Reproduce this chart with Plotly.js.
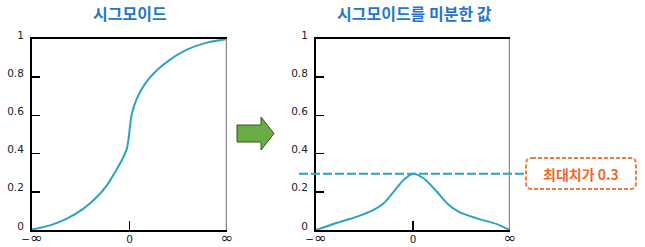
<!DOCTYPE html>
<html>
<head>
<meta charset="utf-8">
<script src="https://cdn.plot.ly/plotly-3.0.1.min.js"></script>
<style>
html,body{margin:0;padding:0;background:#fff;}
#chart{width:645px;height:247px;}
</style>
</head>
<body>
<div id="chart"></div>
<script>
// ---- data ----
const sigmoidX = [-1, -0.993, -0.814, -0.643, -0.472, -0.335, -0.232, -0.147, -0.079, -0.027, -0.007, 0, 0.024, 0.075, 0.161, 0.280, 0.417, 0.588, 0.793, 1.0];
const sigmoidY = [0, 0.003, 0.024, 0.059, 0.112, 0.173, 0.234, 0.304, 0.365, 0.426, 0.487, 0.522, 0.609, 0.688, 0.766, 0.836, 0.892, 0.944, 0.981, 1.0];
const derivX = [-1, -0.782, -0.576, -0.405, -0.302, -0.2, -0.097, 0, 0.109, 0.247, 0.35, 0.469, 0.658, 0.864, 1.0];
const derivY = [0, 0.038, 0.070, 0.105, 0.140, 0.200, 0.262, 0.295, 0.271, 0.200, 0.140, 0.096, 0.061, 0.031, 0];
const peakValue = 0.295;
const yTickVals = [0, 0.2, 0.4, 0.6, 0.8, 1];
const yTickText = ['0', '0.2', '0.4', '0.6', '0.8', '1'];
const xTickVals = [-1, 0, 1];
const xTickText = ['\u2212<span style="font-size:15px">\u221E</span>', '0', '<span style="font-size:15px">\u221E</span>'];
const titles = ['시그모이드', '시그모이드를 미분한 값'];
const maxLabel = '최대치가 0.3';

// ---- helpers (pixel -> paper) ----
const W = 645, H = 247;
const px = x => x / W;
const py = y => (H - y) / H;

const curveColor = '#2ea2c3';
const tickFont = {family: 'DejaVu Sans, Verdana, sans-serif', size: 10.5, color: '#222'};

function xAxis(domain, anchor) {
  return {
    domain: domain, anchor: anchor, range: [-1, 1], fixedrange: true,
    showgrid: false, zeroline: false,
    showline: true, linecolor: '#000', linewidth: 2, mirror: true,
    tickmode: 'array', tickvals: xTickVals, ticktext: xTickText,
    ticks: 'inside', ticklen: 9, tickwidth: 1.5, tickcolor: '#000',
    tickfont: tickFont, ticklabelstandoff: -2
  };
}
function yAxis(anchor) {
  return {
    domain: [py(230), py(39)], anchor: anchor, range: [0, 1], fixedrange: true,
    showgrid: false, zeroline: false,
    showline: true, linecolor: '#000', linewidth: 2, mirror: false,
    tickmode: 'array', tickvals: yTickVals, ticktext: yTickText,
    ticks: 'inside', ticklen: 8, tickwidth: 1.5, tickcolor: '#000',
    tickfont: tickFont, ticklabelshift: -4, ticklabelstandoff: 4
  };
}

const traces = [
  {x: sigmoidX, y: sigmoidY, xaxis: 'x', yaxis: 'y', mode: 'lines',
   line: {color: curveColor, width: 2, shape: 'spline', smoothing: 0.6}, cliponaxis: false, hoverinfo: 'skip'},
  {x: derivX, y: derivY, xaxis: 'x2', yaxis: 'y2', mode: 'lines',
   line: {color: curveColor, width: 2, shape: 'spline', smoothing: 0.8}, cliponaxis: false, hoverinfo: 'skip'}
];

// arrow polygon
const arrowPts = [[237,125],[261,125],[261,117],[274,133.5],[261,150],[261,142],[237,142]];
const arrowPath = 'M ' + arrowPts.map(p => px(p[0]) + ',' + py(p[1])).join(' L ') + ' Z';

// rounded dashed box
function roundedRect(x0, y0, x1, y1, r) {
  const rx = r / W, ry = r / H;
  const a = px(x0), b = px(x1), top = py(y0), bot = py(y1);
  return `M ${a+rx},${top} L ${b-rx},${top} Q ${b},${top} ${b},${top-ry} L ${b},${bot+ry} Q ${b},${bot} ${b-rx},${bot} L ${a+rx},${bot} Q ${a},${bot} ${a},${bot+ry} L ${a},${top-ry} Q ${a},${top} ${a+rx},${top} Z`;
}

const layout = {
  width: W, height: H,
  margin: {l: 0, r: 0, t: 0, b: 0},
  paper_bgcolor: '#fff', plot_bgcolor: '#fff',
  showlegend: false,
  xaxis: xAxis([px(32), px(227)], 'y'),
  yaxis: yAxis('x'),
  xaxis2: xAxis([px(316), px(510)], 'y2'),
  yaxis2: yAxis('x2'),
  shapes: [
    // gray right borders
    {type: 'line', xref: 'x', yref: 'y', x0: 1, x1: 1, y0: 0, y1: 1, line: {color: '#8a8a8a', width: 2.5}},
    {type: 'line', xref: 'x2', yref: 'y2', x0: 1, x1: 1, y0: 0, y1: 1, line: {color: '#8a8a8a', width: 2.5}},
    // dashed max line
    {type: 'line', xref: 'paper', yref: 'y2', x0: px(299), x1: px(526), y0: peakValue, y1: peakValue,
     line: {color: curveColor, width: 2, dash: '9px,3px'}},
    // arrow
    {type: 'path', xref: 'paper', yref: 'paper', path: arrowPath, fillcolor: '#6aad45', line: {color: '#35541f', width: 1}},
    // label box
    {type: 'path', xref: 'paper', yref: 'paper', path: roundedRect(526, 158, 636, 189, 6),
     fillcolor: '#fff', line: {color: '#ef7b42', width: 2, dash: '4px,2px'}}
  ],
  annotations: [
    {text: '<b>' + titles[0] + '</b>', xref: 'paper', yref: 'paper', x: px(130), y: py(13),
     xanchor: 'center', yanchor: 'middle', showarrow: false,
     font: {family: 'Noto Sans CJK KR', size: 16, color: '#2477c8'}},
    {text: '<b>' + titles[1] + '</b>', xref: 'paper', yref: 'paper', x: px(414), y: py(13),
     xanchor: 'center', yanchor: 'middle', showarrow: false,
     font: {family: 'Noto Sans CJK KR', size: 16, color: '#2477c8'}},
    {text: '<b>' + maxLabel + '</b>', xref: 'paper', yref: 'paper', x: px(581), y: py(174),
     xanchor: 'center', yanchor: 'middle', showarrow: false,
     font: {family: 'Noto Sans CJK KR', size: 14, color: '#f0692a'}}
  ]
};

Plotly.newPlot('chart', traces, layout, {staticPlot: true, displayModeBar: false});
</script>
</body>
</html>
